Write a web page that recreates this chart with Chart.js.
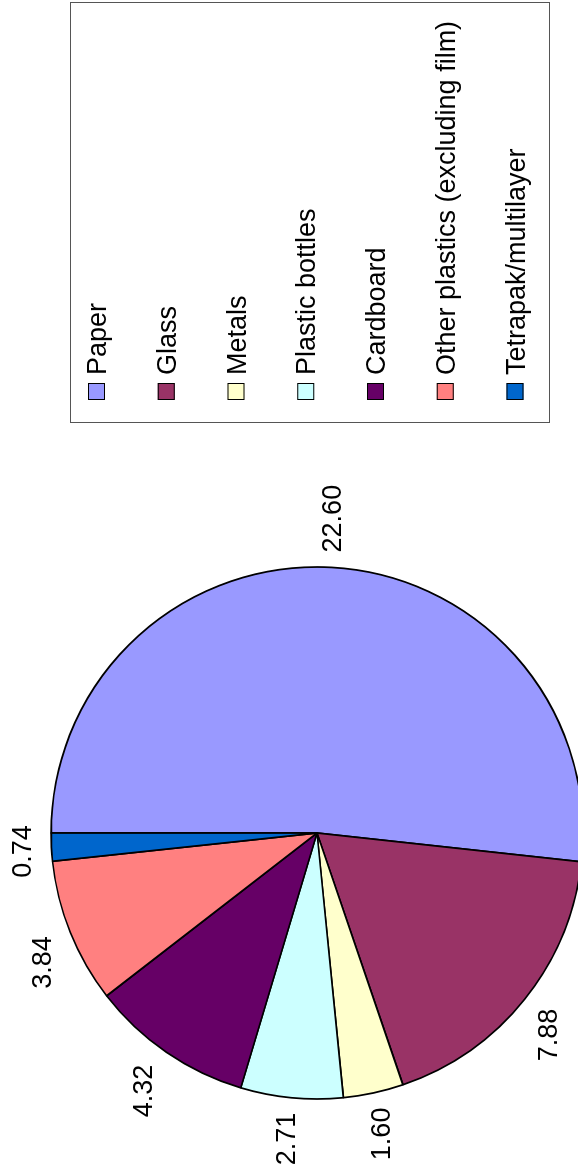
<!DOCTYPE html>
<html>
<head>
<meta charset="utf-8">
<script src="https://cdn.jsdelivr.net/npm/chart.js@4.4.0/dist/chart.umd.min.js"></script>
<style>
  html, body { margin: 0; padding: 0; background: #fff; overflow: hidden; }
  body { width: 578px; height: 1176px; position: relative; }
  /* the chart is laid out landscape and turned a quarter turn to the left */
  #wrap {
    position: absolute; left: 0; top: 0;
    width: 1176px; height: 578px;
    transform-origin: 0 0;
    transform: translate(0, 1176px) rotate(-90deg);
  }
</style>
</head>
<body>
<div id="wrap"><canvas id="pie" width="1176" height="578"></canvas></div>
<script>
const categories = ['Paper', 'Glass', 'Metals', 'Plastic bottles', 'Cardboard',
                    'Other plastics (excluding film)', 'Tetrapak/multilayer'];
const values = [22.60, 7.88, 1.60, 2.71, 4.32, 3.84, 0.74];
const sliceColors = ['#9999FF', '#993366', '#FFFFCC', '#CCFFFF', '#660066', '#FF8080', '#0066CC'];

const FONT = '27px "Liberation Sans", Arial, sans-serif';

function clamp1(v) {
    return Math.max(-1, Math.min(1, v));
}

// value labels just outside each slice, pushed out by their own box size
const valueLabels = {
    id: 'valueLabels',
    afterDatasetsDraw(chart) {
        const ctx = chart.ctx;
        const meta = chart.getDatasetMeta(0);
        ctx.save();
        ctx.font = FONT;
        ctx.fillStyle = '#000';
        ctx.textAlign = 'center';
        ctx.textBaseline = 'middle';
        meta.data.forEach((arc, i) => {
            const p = arc.getProps(['x', 'y', 'startAngle', 'endAngle', 'outerRadius'], true);
            const mid = (p.startAngle + p.endAngle) / 2;
            const dx = Math.cos(mid), dy = Math.sin(mid);
            const text = values[i].toFixed(2);
            const w = ctx.measureText(text).width;
            const h = 26;
            const r = p.outerRadius + 15;
            const x = p.x + dx * r + clamp1(dx * 2.5) * w / 2;
            const y = p.y + dy * r + clamp1(dy * 2) * h / 2;
            ctx.fillText(text, x, y);
        });
        ctx.restore();
    }
};

// boxed legend on the right
const boxLegend = {
    id: 'boxLegend',
    afterDraw(chart) {
        const ctx = chart.ctx;
        ctx.save();
        ctx.strokeStyle = '#555';
        ctx.lineWidth = 1;
        ctx.strokeRect(753.5, 70.5, 420, 479);
        ctx.font = FONT;
        ctx.textAlign = 'left';
        ctx.textBaseline = 'alphabetic';
        categories.forEach((name, i) => {
            const cy = 96.5 + i * 69.75;
            ctx.fillStyle = sliceColors[i];
            ctx.fillRect(776, cy - 8.5, 17, 17);
            ctx.strokeStyle = '#000';
            ctx.strokeRect(776.5, cy - 8, 16, 16);
            ctx.fillStyle = '#000';
            ctx.fillText(name, 801, cy + 9.5);
        });
        ctx.restore();
    }
};

new Chart(document.getElementById('pie'), {
    type: 'pie',
    data: {
        labels: categories,
        datasets: [{
            data: values,
            backgroundColor: sliceColors,
            borderColor: '#000',
            borderWidth: 1.75,
            radius: 266,
            clip: false
        }]
    },
    options: {
        responsive: false,
        animation: false,
        rotation: 0,
        layout: { padding: { left: 0, right: 490, top: 56, bottom: 0 } },
        plugins: {
            legend: { display: false },
            tooltip: { enabled: false }
        }
    },
    plugins: [valueLabels, boxLegend]
});
</script>
</body>
</html>
